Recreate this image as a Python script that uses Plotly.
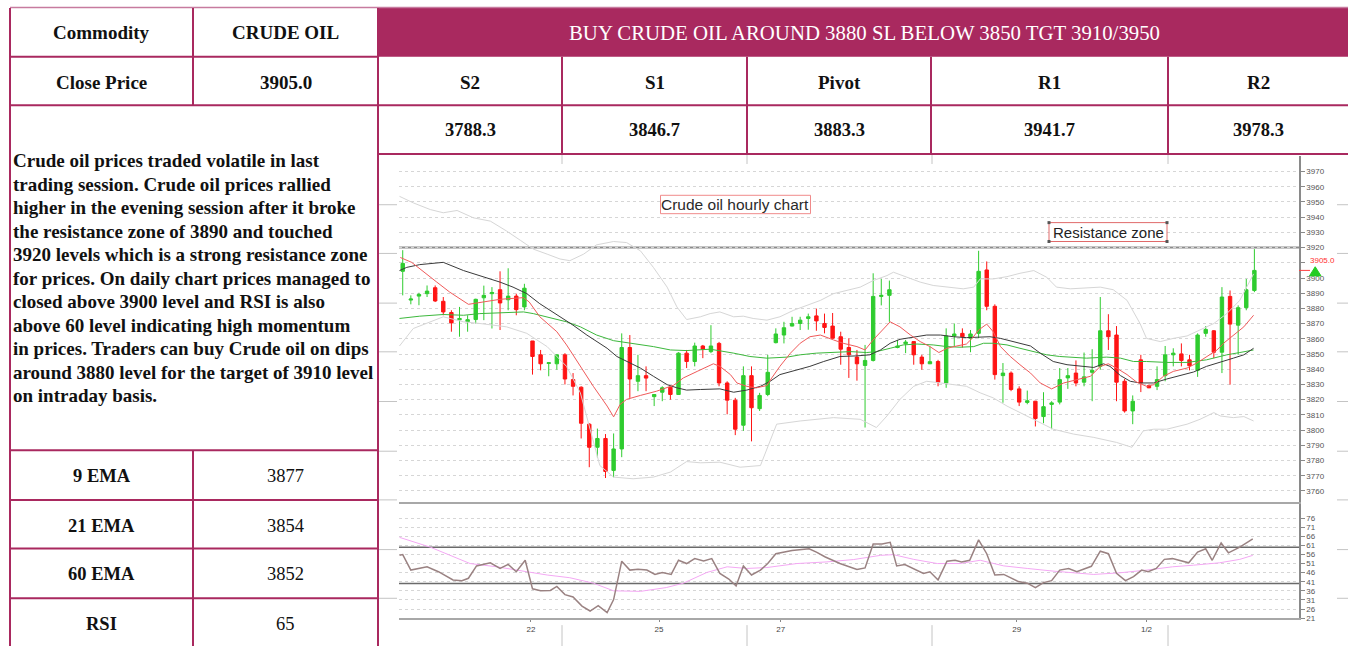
import plotly.graph_objects as go

# ------------------------------------------------------------------ table text
commodity_label = "Commodity"
commodity_name = "CRUDE OIL"
close_label = "Close Price"
close_price_text = "3905.0"
headline = "BUY CRUDE OIL AROUND 3880 SL BELOW 3850 TGT 3910/3950"
pivot_labels = ["S2", "S1", "Pivot", "R1", "R2"]
pivot_values = ["3788.3", "3846.7", "3883.3", "3941.7", "3978.3"]
indicator_labels = ["9 EMA", "21 EMA", "60 EMA", "RSI"]
indicator_values = ["3877", "3854", "3852", "65"]
comment_lines = [
    "Crude oil prices traded volatile in last",
    "trading session. Crude oil prices rallied",
    "higher in the evening session after it broke",
    "the resistance zone of 3890 and touched",
    "3920 levels which is a strong resistance zone",
    "for prices. On daily chart prices managed to",
    "closed above 3900 level and RSI is also",
    "above 60 level indicating high momentum",
    "in prices. Traders can buy Crude oil on dips",
    "around 3880 level for the target of 3910 level",
    "on intraday basis.",
]

# ------------------------------------------------------------------ hourly candles
open_ = [3904.4, 3885.5, 3888.1, 3889.7, 3893.6, 3884.7, 3877.3, 3872.5, 3871.3, 3872.7,
         3887.0, 3889.7, 3892.3, 3885.7, 3888.1, 3881.0, 3858.6, 3849.5, 3843.8, 3843.6,
         3849.5, 3833.2, 3828.2, 3803.9, 3788.7, 3794.5, 3773.5, 3787.6, 3854.3, 3832.1,
         3835.8, 3822.0, 3824.9, 3828.2, 3823.4, 3850.6, 3845.1, 3855.3, 3851.6, 3857.0,
         3831.0, 3819.7, 3803.2, 3835.8, 3814.1, 3823.4, 3857.5, 3862.5, 3868.4, 3870.1,
         3873.4, 3875.1, 3870.1, 3868.4, 3861.4, 3854.3, 3848.0, 3842.5, 3845.8, 3887.9,
         3888.6, 3854.3, 3856.8, 3858.2, 3848.0, 3843.6, 3845.1, 3831.0, 3861.9, 3863.6,
         3860.4, 3863.6, 3905.3, 3881.4, 3835.8, 3837.5, 3827.1, 3818.2, 3819.0, 3808.9,
         3816.9, 3818.4, 3834.3, 3837.5, 3831.5, 3838.0, 3841.9, 3865.3, 3862.5, 3832.1,
         3812.6, 3846.2, 3829.3, 3828.8, 3835.8, 3849.5, 3850.1, 3846.2, 3839.3, 3863.6,
         3865.3, 3851.2, 3887.9, 3869.0, 3880.5, 3891.8]
high = [3918.3, 3888.6, 3890.3, 3895.1, 3895.1, 3887.5, 3878.8, 3881.0, 3875.5, 3886.4,
        3895.0, 3894.0, 3904.4, 3906.4, 3889.7, 3896.2, 3858.6, 3852.7, 3844.5, 3849.6,
        3850.6, 3837.5, 3828.8, 3804.5, 3801.0, 3797.4, 3797.8, 3863.6, 3862.5, 3849.5,
        3841.9, 3823.6, 3828.8, 3828.8, 3851.2, 3852.7, 3857.5, 3856.0, 3869.0, 3858.0,
        3832.1, 3821.2, 3841.9, 3841.9, 3824.5, 3849.5, 3866.9, 3871.2, 3874.5, 3874.5,
        3876.6, 3879.9, 3876.6, 3877.0, 3864.7, 3860.4, 3852.7, 3856.0, 3903.1, 3899.4,
        3898.3, 3859.3, 3859.3, 3858.3, 3849.5, 3855.0, 3846.2, 3866.9, 3870.1, 3866.9,
        3865.8, 3917.9, 3910.9, 3882.7, 3844.1, 3838.6, 3828.8, 3826.0, 3819.2, 3824.9,
        3819.0, 3840.8, 3840.8, 3845.8, 3851.0, 3853.2, 3887.5, 3876.2, 3868.4, 3833.6,
        3822.8, 3849.5, 3830.0, 3841.9, 3855.3, 3853.8, 3857.0, 3849.5, 3863.6, 3868.4,
        3865.8, 3894.0, 3891.8, 3882.0, 3899.4, 3919.0]
low = [3888.6, 3882.7, 3882.1, 3887.5, 3884.2, 3875.5, 3864.7, 3861.4, 3864.7, 3870.0,
       3872.3, 3866.8, 3865.8, 3878.8, 3875.5, 3878.8, 3836.5, 3839.3, 3835.4, 3839.7,
       3830.0, 3822.8, 3794.5, 3775.6, 3782.0, 3768.5, 3769.0, 3782.2, 3821.2, 3825.6,
       3825.6, 3815.8, 3819.0, 3820.0, 3823.2, 3840.8, 3841.9, 3847.3, 3850.6, 3828.8,
       3810.4, 3796.7, 3799.5, 3792.6, 3812.6, 3822.3, 3857.0, 3857.0, 3868.2, 3865.8,
       3866.0, 3865.3, 3863.6, 3860.2, 3843.0, 3834.3, 3832.5, 3801.7, 3845.1, 3882.0,
       3871.2, 3853.8, 3850.6, 3843.0, 3839.7, 3843.4, 3828.8, 3827.8, 3855.0, 3854.3,
       3851.2, 3860.4, 3878.8, 3833.2, 3818.0, 3825.6, 3815.8, 3817.0, 3802.4, 3804.5,
       3800.6, 3816.9, 3827.1, 3828.8, 3828.8, 3819.0, 3839.7, 3852.7, 3819.0, 3811.5,
       3803.9, 3825.0, 3827.6, 3826.3, 3832.1, 3841.9, 3841.9, 3839.3, 3835.0, 3861.4,
       3847.3, 3837.5, 3829.9, 3849.5, 3878.8, 3890.7]
close = [3909.6, 3886.2, 3889.2, 3891.4, 3884.9, 3877.7, 3870.5, 3873.4, 3872.6, 3886.0,
         3888.6, 3890.5, 3883.6, 3888.1, 3879.2, 3893.3, 3848.4, 3843.6, 3844.3, 3849.5,
         3833.6, 3828.8, 3804.5, 3788.7, 3794.5, 3772.8, 3787.6, 3854.3, 3833.6, 3835.8,
         3834.2, 3823.4, 3827.8, 3823.4, 3850.6, 3845.1, 3855.3, 3853.2, 3855.3, 3831.0,
         3819.7, 3800.6, 3835.8, 3814.7, 3822.8, 3838.0, 3863.2, 3867.3, 3870.1, 3872.3,
         3874.5, 3871.8, 3867.5, 3860.4, 3853.2, 3849.5, 3843.6, 3845.8, 3887.9, 3888.6,
         3892.3, 3855.3, 3857.9, 3849.5, 3843.6, 3845.0, 3831.5, 3861.9, 3863.2, 3861.4,
         3863.2, 3904.4, 3881.4, 3836.5, 3837.5, 3826.7, 3818.4, 3819.3, 3807.6, 3815.4,
         3817.9, 3833.2, 3835.8, 3831.0, 3835.0, 3839.3, 3865.3, 3861.4, 3831.5, 3812.6,
         3819.0, 3831.0, 3827.8, 3833.2, 3849.5, 3850.6, 3845.8, 3842.3, 3862.5, 3866.2,
         3851.2, 3887.5, 3869.7, 3880.5, 3892.3, 3905.0]
candle_idx = list(range(len(close)))

# ------------------------------------------------------------------ overlays (read at vertices)
ema9_x = [-0.3, 1.1, 4.2, 5.8, 8.1, 9.5, 12.0, 14.9, 15.6, 16.9, 19.0, 20.2, 21.9, 23.5, 25.2,
          26.0, 26.8, 27.6, 29.3, 31.3, 33.4, 34.6, 36.3, 38.3, 39.1, 40.4, 41.2, 42.4, 43.6,
          44.9, 45.5, 46.5, 47.8, 49.0, 50.2, 51.5, 53.1, 54.3, 56.0, 57.0, 58.0, 59.1, 60.1,
          61.3, 62.6, 63.8, 65.0, 66.1, 67.1, 68.3, 69.5, 70.2, 71.0, 72.0, 72.8, 73.7, 74.9,
          76.1, 77.4, 78.6, 80.0, 81.5, 83.1, 84.8, 86.0, 87.0, 88.0, 89.3, 90.5, 91.7, 92.6,
          93.8, 95.0, 96.7, 97.9, 99.1, 100.4, 101.2, 102.4, 103.7, 104.9]
ema9_y = [3913.5, 3910.3, 3897.3, 3890.7, 3882.7, 3883.8, 3886.0, 3887.1, 3884.2, 3874.5,
          3864.7, 3856.0, 3841.9, 3828.8, 3815.8, 3808.7, 3816.9, 3820.2, 3822.8, 3825.6,
          3829.5, 3834.3, 3838.6, 3843.6, 3841.9, 3836.5, 3831.0, 3828.8, 3827.8, 3829.3,
          3834.3, 3841.9, 3850.6, 3857.1, 3861.4, 3862.5, 3859.3, 3857.1, 3854.9, 3852.7,
          3859.3, 3865.8, 3871.2, 3867.9, 3862.5, 3858.2, 3854.9, 3851.0, 3853.8, 3855.3,
          3856.6, 3860.3, 3865.8, 3869.7, 3864.7, 3854.9, 3848.4, 3843.0, 3837.5, 3831.0,
          3827.1, 3831.0, 3833.2, 3835.4, 3841.9, 3843.6, 3840.8, 3836.5, 3831.5, 3828.8,
          3829.9, 3835.4, 3838.6, 3840.8, 3844.1, 3848.0, 3852.7, 3857.1, 3862.5, 3867.9,
          3875.5]

ema21_x = [-0.4, 0.5, 2.1, 5.0, 7.5, 9.5, 12.0, 13.6, 15.3, 16.9, 19.4, 21.0, 22.7, 25.2,
           26.4, 27.6, 29.3, 30.9, 32.6, 33.8, 35.0, 36.7, 39.1, 40.8, 42.4, 44.1, 45.3,
           46.5, 48.6, 50.2, 51.9, 53.9, 56.0, 57.6, 58.9, 60.1, 61.3, 63.0, 64.6, 66.3,
           67.9, 69.5, 71.2, 72.4, 73.7, 75.3, 77.4, 78.6, 80.2, 81.9, 83.5, 85.2, 86.4,
           87.2, 88.5, 89.7, 90.9, 92.6, 94.2, 95.8, 97.5, 99.1, 100.8, 102.4, 103.7, 104.9]
ema21_y = [3904.9, 3907.0, 3908.8, 3910.3, 3904.9, 3901.6, 3897.3, 3894.0, 3889.7, 3883.1,
           3874.5, 3869.0, 3862.5, 3853.8, 3848.4, 3845.1, 3840.8, 3835.4, 3829.9, 3827.8,
           3826.3, 3826.7, 3827.1, 3824.9, 3826.3, 3828.8, 3832.1, 3836.5, 3839.3, 3841.9,
           3845.1, 3848.4, 3848.8, 3849.5, 3852.7, 3857.1, 3859.7, 3861.4, 3862.5, 3862.5,
           3861.4, 3860.8, 3861.4, 3861.4, 3860.3, 3858.2, 3855.3, 3850.6, 3845.1, 3843.0,
           3841.9, 3841.2, 3843.6, 3841.9, 3835.8, 3832.1, 3831.0, 3831.0, 3833.6, 3835.8,
           3838.2, 3841.9, 3844.5, 3847.3, 3849.5, 3853.8]

ema60_x = [-0.4, 2.1, 5.0, 7.5, 9.5, 12.0, 14.9, 16.1, 17.8, 20.2, 21.9, 23.9, 26.0, 28.4,
           30.9, 33.0, 35.0, 37.9, 39.1, 40.8, 42.8, 44.9, 47.4, 49.0, 51.0, 53.1, 55.2,
           57.2, 58.4, 60.1, 61.7, 63.4, 65.4, 67.1, 68.7, 70.4, 71.6, 72.8, 74.5, 76.1,
           77.4, 79.4, 81.0, 84.3, 86.8, 88.5, 90.1, 91.7, 94.2, 96.7, 99.1, 101.6, 103.2, 104.9]
ema60_y = [3873.4, 3874.9, 3876.0, 3875.5, 3876.6, 3877.1, 3877.7, 3876.6, 3874.5, 3871.2,
           3867.9, 3862.5, 3858.8, 3857.1, 3854.9, 3852.7, 3852.3, 3853.2, 3852.3, 3850.6,
           3848.4, 3847.3, 3848.0, 3849.5, 3850.6, 3851.2, 3851.6, 3851.0, 3851.6, 3853.8,
           3856.0, 3856.6, 3856.0, 3854.9, 3854.5, 3854.9, 3857.1, 3857.1, 3856.0, 3853.8,
           3852.1, 3849.5, 3848.4, 3847.3, 3848.0, 3847.3, 3845.1, 3845.1, 3844.5, 3844.5,
           3846.2, 3849.5, 3851.0, 3852.7]

bb_up_x = [-0.4, 1.3, 3.4, 5.0, 6.7, 8.7, 10.8, 12.8, 14.5, 16.1, 17.8, 19.4, 20.6, 22.3,
           23.9, 26.0, 27.6, 29.3, 30.9, 32.6, 33.8, 35.0, 36.7, 37.9, 39.1, 40.8, 42.0,
           43.2, 44.9, 46.5, 48.2, 49.8, 51.5, 53.1, 54.7, 56.4, 58.0, 59.7, 60.5, 62.1,
           63.8, 65.4, 67.5, 69.1, 70.4, 71.2, 72.8, 74.5, 76.1, 77.8, 79.4, 80.6, 82.3,
           84.3, 86.0, 87.6, 89.3, 90.9, 91.7, 93.4, 95.0, 96.7, 98.3, 100.0, 101.6, 103.2, 104.9]
bb_up_y = [3953.7, 3949.4, 3945.0, 3942.9, 3944.4, 3939.6, 3937.4, 3930.9, 3924.8, 3919.0,
           3915.7, 3912.5, 3911.4, 3915.7, 3921.8, 3924.0, 3923.3, 3917.9, 3907.0, 3894.0,
           3881.0, 3872.7, 3874.5, 3876.6, 3877.7, 3874.5, 3874.9, 3873.4, 3872.3, 3874.5,
           3878.8, 3882.1, 3885.3, 3889.7, 3891.8, 3894.0, 3898.3, 3901.6, 3903.8, 3900.5,
           3897.3, 3895.1, 3894.0, 3892.9, 3894.0, 3899.4, 3899.4, 3900.9, 3903.1, 3904.9,
           3900.5, 3894.0, 3892.9, 3893.6, 3894.0, 3892.3, 3885.3, 3870.1, 3860.3, 3858.2,
           3860.3, 3861.9, 3865.8, 3870.1, 3876.6, 3885.3, 3902.7]

bb_lo_x = [-0.4, 1.3, 5.0, 7.5, 9.5, 12.8, 15.3, 17.8, 20.2, 21.9, 23.1, 24.3, 26.0, 28.4,
           30.9, 33.0, 35.0, 36.7, 39.1, 41.6, 44.1, 46.1, 49.0, 53.1, 56.4, 58.4, 59.7,
           61.3, 63.0, 64.6, 66.3, 67.9, 69.5, 71.2, 72.8, 74.5, 76.1, 77.4, 78.6, 80.2,
           82.7, 85.2, 88.0, 89.9, 91.3, 92.6, 94.2, 96.7, 98.3, 100.0, 100.8, 102.4, 103.7, 104.9]
bb_lo_y = [3855.3, 3866.8, 3874.5, 3871.2, 3870.1, 3867.9, 3863.6, 3854.9, 3841.9, 3824.5,
           3800.6, 3776.7, 3769.1, 3768.0, 3769.1, 3772.4, 3779.3, 3778.5, 3778.9, 3775.6,
           3776.7, 3803.9, 3806.0, 3808.2, 3807.1, 3801.7, 3809.3, 3820.2, 3828.8, 3832.1,
           3831.0, 3829.9, 3828.8, 3824.5, 3821.2, 3815.8, 3811.5, 3808.2, 3805.0, 3800.6,
           3797.4, 3795.2, 3791.9, 3788.7, 3799.5, 3800.6, 3800.6, 3803.9, 3807.1, 3811.5,
           3809.3, 3808.2, 3808.9, 3806.0]

resistance_level = 3920

# ------------------------------------------------------------------ RSI panel
rsi_x = [-0.4, 0, 1, 3, 4.4, 6.2, 7.3, 8.1, 9.1, 10.8, 12, 13, 14, 15.1, 16, 17, 18.2, 19, 20,
         21, 22.1, 23.1, 24.1, 25.2, 26, 27, 28, 29, 30.1, 31.1, 32, 33.1, 34, 35, 36, 37.1,
         38.1, 39.1, 40.2, 41.1, 42, 43, 44.1, 45, 46, 48, 50.1, 51, 52.1, 53.9, 56, 57, 58,
         59.1, 60.1, 60.9, 61.9, 64.2, 65, 66, 67.1, 68.1, 68.9, 69.9, 71, 72, 73, 74.1, 75.9,
         77, 78, 79, 80, 81, 82.1, 83.1, 84.9, 86, 87, 88, 89.1, 90.1, 91.1, 91.9, 92.9, 93.9,
         94.9, 96.9, 98, 99, 99.8, 100.9, 101.8, 103.2, 104.8]
rsi_y = [55.5, 55.9, 47.4, 49.2, 46.5, 42.0, 41.6, 42.9, 49.7, 51.4, 48.3, 50.5, 46.5, 52.8,
         37.1, 36.0, 36.2, 38.4, 33.9, 32.6, 27.6, 24.9, 27.9, 24.0, 31.2, 52.3, 47.4, 47.9,
         47.4, 45.0, 46.1, 45.0, 52.8, 51.0, 53.7, 52.4, 53.7, 45.6, 42.5, 38.7, 49.7, 44.7,
         47.4, 51.0, 56.4, 58.2, 59.1, 57.3, 54.6, 51.0, 47.7, 48.6, 61.8, 61.8, 62.7, 49.7,
         50.5, 45.6, 46.5, 42.0, 52.3, 52.8, 51.9, 52.8, 64.0, 56.4, 44.7, 45.0, 41.1, 40.2,
         37.8, 40.5, 41.6, 47.4, 48.3, 46.5, 49.5, 57.8, 56.4, 45.6, 41.6, 43.8, 47.4, 46.5,
         48.3, 53.3, 53.7, 51.4, 57.3, 59.1, 52.8, 62.3, 56.9, 60.0, 64.5]
rsi_sig_x = [-0.4, 3.4, 8.3, 11.6, 15.3, 17.8, 20.6, 23.5, 26, 29.3, 32.5, 34.6, 37.5, 40,
             42.4, 44.9, 48.6, 52.3, 55.6, 58.9, 60.5, 63, 65.9, 68.7, 71.2, 74.1, 77, 80.3,
             85.2, 88.4, 91.7, 94.9, 97.5, 100.7, 103.2, 104.8]
rsi_sig_y = [65.4, 60.0, 51.0, 49.2, 46.5, 44.7, 43.2, 40.2, 36.0, 35.7, 37.8, 40.2, 46.1,
             49.2, 48.3, 48.8, 51.0, 51.9, 53.2, 55.5, 55.9, 53.3, 51.0, 51.0, 52.8, 49.7,
             48.3, 46.8, 45.0, 45.9, 47.4, 49.2, 50.1, 51.4, 53.3, 55.5]
rsi_upper, rsi_lower = 60, 40

date_tick_pos = [15.8, 31.6, 46.6, 75.7, 91.7]
date_tick_text = ["22", "25", "27", "29", "1/2"]
price_ticks = list(range(3760, 3971, 10))
price_tick_text = ["" if v == 3910 else str(v) for v in price_ticks]  # hidden behind last-price tag
rsi_ticks = list(range(21, 77, 5))

# ------------------------------------------------------------------ layout helpers
W, H = 1348, 650
def fx(p):
    return p / W
def fy(p):
    return 1 - p / H

MAROON = "#A9295F"
GREEN = "#2fcc2f"
RED = "#ff1414"
SERIF = "Liberation Serif"
SANS = "Liberation Sans"

shapes = []
annotations = []

def line(x0, y0, x1, y1, color=MAROON, width=2):
    shapes.append(dict(type="line", xref="paper", yref="paper",
                       x0=fx(x0), y0=fy(y0), x1=fx(x1), y1=fy(y1),
                       line=dict(color=color, width=width), layer="above"))

def text(x, y, s, size=19, color="#111", bold=True, family=SERIF, xanchor="center"):
    annotations.append(dict(xref="paper", yref="paper", x=fx(x), y=fy(y),
                            text=("<b>%s</b>" % s) if bold else s, showarrow=False,
                            xanchor=xanchor, yanchor="middle",
                            font=dict(size=size, color=color, family=family)))

# header fill
shapes.append(dict(type="rect", xref="paper", yref="paper", x0=fx(378), x1=fx(1348),
                   y0=fy(8), y1=fy(57), fillcolor=MAROON, line=dict(width=0), layer="above"))

# chart-background stubs (table grid peeking around picture)
STUB = "#c4c4c4"
for yy in [206, 255, 305, 354, 404, 454, 503, 553, 602]:
    line(379, yy, 397, yy, STUB, 1)
    line(1337, yy, 1348, yy, STUB, 1)
for xx in [562, 747, 932, 1168]:
    line(xx, 156, xx, 165, STUB, 1)
    line(xx, 629, xx, 650, STUB, 1)

# table grid
line(10, 7.5, 1348, 7.5, "#c77b9f", 1.5)
line(10, 57, 378, 57)
line(10, 106, 1348, 106)
line(378, 155, 1348, 155)
for yy in [453, 503, 552, 602]:
    line(10, yy, 378, yy)
line(10, 8, 10, 650)
line(193, 8, 193, 106)
line(193, 453, 193, 650)
line(378, 8, 378, 650)
col_edges = [378, 562, 747, 931, 1168, 1348]
for xx in col_edges[1:-1]:
    line(xx, 57, xx, 155)

# table text
text(101.5, 33, commodity_label)
text(285.5, 33, commodity_name)
text(101.5, 83, close_label)
text(285.5, 83, close_price_text)
text(864, 33, headline, size=20.8, color="white", bold=False)
for i in range(5):
    cx = (col_edges[i] + col_edges[i + 1]) / 2
    text(cx, 83, pivot_labels[i])
    text(cx, 131, pivot_values[i], size=18.5)
for i, s in enumerate(comment_lines):
    text(10.5, 161.7 + i * 23.65, s, xanchor="left")
for i in range(4):
    yy = [479, 529, 578, 628][i]
    text(101.5, yy, indicator_labels[i], size=18.5)
    text(285.5, yy, indicator_values[i], size=18.5, bold=False)

# chart labels
shapes.append(dict(type="rect", xref="paper", yref="paper", x0=fx(660.5), x1=fx(810.5),
                   y0=fy(215), y1=fy(196.5), fillcolor="white",
                   line=dict(color="#f08a8a", width=1), layer="above"))
text(735.5, 206, "Crude oil hourly chart", size=15.5, color="#2a2a2a", bold=False, family=SANS)
shapes.append(dict(type="rect", xref="paper", yref="paper", x0=fx(1049), x1=fx(1167),
                   y0=fy(243), y1=fy(224), fillcolor="white",
                   line=dict(color="#e06a6a", width=1), layer="above"))
for cx, cy in [(1049, 224), (1167, 224), (1049, 243), (1167, 243)]:
    shapes.append(dict(type="rect", xref="paper", yref="paper", x0=fx(cx - 1.5), x1=fx(cx + 1.5),
                       y0=fy(cy + 1.5), y1=fy(cy - 1.5), fillcolor="#555",
                       line=dict(width=0), layer="above"))
text(1108, 234, "Resistance zone", size=15, color="#222", bold=False, family=SANS)

# resistance & RSI reference lines
shapes.append(dict(type="line", xref="x domain", yref="y", x0=0, x1=1,
                   y0=resistance_level, y1=resistance_level,
                   line=dict(color="#8c8c8c", width=2), layer="below"))
for lv in [rsi_upper, rsi_lower]:
    shapes.append(dict(type="line", xref="x2 domain", yref="y2", x0=0, x1=1, y0=lv, y1=lv,
                       line=dict(color="#6a6a6a", width=1.5), layer="below"))

# last price marker
last = close[-1]
shapes.append(dict(type="line", xref="paper", yref="y", x0=fx(1299), x1=fx(1310),
                   y0=last, y1=last, line=dict(color="#ff4040", width=1)))
shapes.append(dict(type="path", xref="paper", yref="y",
                   path="M %f,%f L %f,%f L %f,%f Z" % (fx(1309.5), last - 3.6, fx(1321), last - 3.6,
                                                     fx(1315.2), last + 2.4),
                   fillcolor="#22cc22", line=dict(color="#22cc22", width=1)))
annotations.append(dict(xref="paper", yref="y", x=fx(1308), y=last, yshift=10,
                        text="%.1f" % last, showarrow=False, xanchor="left", yanchor="middle",
                        font=dict(size=8, color="#ff3030", family=SANS)))

# ------------------------------------------------------------------ traces
fig = go.Figure()
fig.add_trace(go.Scatter(x=bb_up_x, y=bb_up_y, mode="lines", line=dict(color="#d6d6d6", width=1),
                         xaxis="x", yaxis="y", hoverinfo="skip"))
fig.add_trace(go.Scatter(x=bb_lo_x, y=bb_lo_y, mode="lines", line=dict(color="#d6d6d6", width=1),
                         xaxis="x", yaxis="y", hoverinfo="skip"))
fig.add_trace(go.Candlestick(x=candle_idx, open=open_, high=high, low=low, close=close,
                             increasing=dict(line=dict(color=GREEN, width=1), fillcolor=GREEN),
                             decreasing=dict(line=dict(color=RED, width=1), fillcolor=RED),
                             whiskerwidth=0, xaxis="x", yaxis="y", hoverinfo="skip"))
fig.add_trace(go.Scatter(x=ema60_x, y=ema60_y, mode="lines", line=dict(color="#3cb83c", width=1),
                         xaxis="x", yaxis="y", hoverinfo="skip"))
fig.add_trace(go.Scatter(x=ema21_x, y=ema21_y, mode="lines", line=dict(color="#3a3a3a", width=1),
                         xaxis="x", yaxis="y", hoverinfo="skip"))
fig.add_trace(go.Scatter(x=ema9_x, y=ema9_y, mode="lines", line=dict(color="#f05a5a", width=1),
                         xaxis="x", yaxis="y", hoverinfo="skip"))
fig.add_trace(go.Scatter(x=rsi_sig_x, y=rsi_sig_y, mode="lines", line=dict(color="#f4a8f4", width=1),
                         xaxis="x2", yaxis="y2", hoverinfo="skip"))
fig.add_trace(go.Scatter(x=rsi_x, y=rsi_y, mode="lines", line=dict(color="#9a8282", width=1.5),
                         xaxis="x2", yaxis="y2", hoverinfo="skip"))

xr = [-0.46, 110.5]
common_y = dict(side="right", showline=True, linecolor="#8a8a8a", linewidth=1.5,
                ticks="outside", ticklen=4, tickcolor="#8a8a8a",
                tickfont=dict(size=8, color="#555", family=SANS),
                showgrid=True, gridcolor="#d6d6d6", griddash="dot", gridwidth=1,
                zeroline=False, fixedrange=True)
fig.update_layout(
    width=W, margin=dict(l=0, r=0, t=0, b=0),
    paper_bgcolor="white", plot_bgcolor="rgba(0,0,0,0)", showlegend=False,
    boxgap=0.4,
    xaxis=dict(domain=[fx(399), fx(1299)], range=xr, anchor="y", showticklabels=False,
               showgrid=False, zeroline=False, showline=True, linecolor="#a8a8a8", linewidth=2,
               rangeslider=dict(visible=False), fixedrange=True),
    yaxis=dict(domain=[fy(505), fy(157)], range=[3752.8, 3980.2], anchor="x",
               tickvals=price_ticks, ticktext=price_tick_text, **common_y),
    xaxis2=dict(domain=[fx(399), fx(1299)], range=xr, anchor="y2", tickvals=date_tick_pos,
                ticktext=date_tick_text, tickfont=dict(size=8, color="#444", family=SANS),
                ticks="outside", ticklen=2, tickcolor="#888",
                showgrid=False, zeroline=False, showline=True, linecolor="#a8a8a8", linewidth=2,
                rangeslider=dict(visible=False), fixedrange=True),
    yaxis2=dict(domain=[fy(622.3), fy(507)], range=[20.8, 83.8], anchor="x2",
                tickvals=rsi_ticks, **common_y),
    shapes=shapes, annotations=annotations,
)

fig.write_html(
    "out.html", config={"displayModeBar": False}, default_height="100vh",
    post_script=(
        "document.documentElement.style.margin='0';document.documentElement.style.overflow='hidden';"
        "document.body.style.margin='0';document.body.style.overflow='hidden';"
        "var d=document.getElementById('{plot_id}');d.style.position='fixed';"
        "d.style.left='0px';d.style.top='0px';"
    ),
)
